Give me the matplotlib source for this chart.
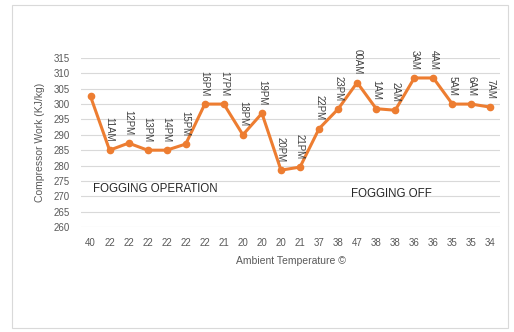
import matplotlib
matplotlib.use("Agg")
import matplotlib.pyplot as plt
from matplotlib.patches import Rectangle

plt.rcParams['font.family'] = ['Liberation Sans', 'DejaVu Sans']

temps = ["40", "22", "22", "22", "22", "22", "22", "21", "20", "20", "20",
         "21", "37", "38", "47", "38", "38", "36", "36", "35", "35", "34"]
work = [302.5, 285, 287.3, 285, 285, 287, 300, 300, 290, 297, 278.5,
        279.5, 292, 298.4, 307, 298.5, 298, 308.5, 308.5, 300, 300, 299]
hours = ["", "11AM", "12PM", "13PM", "14PM", "15PM", "16PM", "17PM", "18PM",
         "19PM", "20PM", "21PM", "22PM", "23PM", "00AM", "1AM", "2AM", "3AM",
         "4AM", "5AM", "6AM", "7AM"]
yticks = list(range(260, 316, 5))

fig = plt.figure(figsize=(5.14, 3.32), dpi=100)
fig.patches.append(Rectangle((12 / 514, 1 - 328 / 332), 496 / 514, 323 / 332,
                             transform=fig.transFigure, fill=False,
                             edgecolor="#d9d9d9", linewidth=0.8))

ax = fig.add_axes([81 / 514, 1 - 227 / 332, 419 / 514, 169 / 332])
x = list(range(len(work)))
ax.plot(x, work, color="#ED7D31", linewidth=2.2, marker="o", markersize=4.5,
        zorder=3)

for xi, yi, lab in zip(x, work, hours):
    if lab:
        ax.annotate(lab, (xi, yi), xytext=(0, 6), textcoords="offset points",
                    rotation=270, ha="center", va="bottom", fontsize=7,
                    color="#404040")

ax.set_xlim(-0.5, len(work) - 0.5)
ax.set_ylim(260, 315)
ax.set_yticks(yticks)
ax.set_xticks(x)
ax.set_xticklabels(temps)
ax.tick_params(axis="both", length=0, labelsize=7, labelcolor="#595959")
ax.tick_params(axis="x", pad=8)
ax.tick_params(axis="y", pad=8)
ax.grid(axis="y", color="#d9d9d9", linewidth=0.8)
ax.set_axisbelow(True)
for s in ax.spines.values():
    s.set_visible(False)

ax.set_ylabel("Compressor Work (KJ/kg)", fontsize=7.5, color="#595959", labelpad=6)
ax.set_xlabel("Ambient Temperature \u00a9", fontsize=7.5, color="#595959", labelpad=6)

ax.text(0.15, 272.5, "FOGGING OPERATION", fontsize=8.3, color="#262626",
        va="center", ha="left")
ax.text(13.7, 270.8, "FOGGING OFF", fontsize=8.3, color="#262626",
        va="center", ha="left")

fig.savefig("out.png", dpi=100)
